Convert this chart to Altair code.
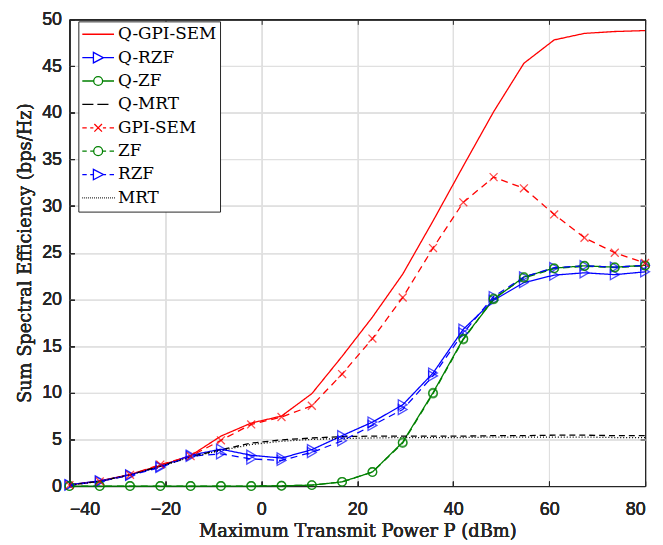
import altair as alt
import pandas as pd

power_dbm = [-40, -33.68, -27.37, -21.05, -14.74, -8.42, -2.11, 4.21, 10.53, 16.84,
             23.16, 29.47, 35.79, 42.11, 48.42, 54.74, 61.05, 67.37, 73.68, 80]

series_names = ["Q-GPI-SEM", "Q-RZF", "Q-ZF", "Q-MRT", "GPI-SEM", "ZF", "RZF", "MRT"]

q_gpi_sem = [0.12, 0.55, 1.25, 2.2, 3.25, 5.35, 6.75, 7.5, 9.9, 13.9,
             18.1, 22.7, 28.4, 34.3, 40.1, 45.3, 47.8, 48.5, 48.7, 48.8]
q_rzf = [0.15, 0.55, 1.2, 2.1, 3.3, 3.95, 3.3, 3.0, 3.9, 5.4,
         6.85, 8.7, 12.1, 16.8, 19.9, 21.8, 22.6, 22.85, 22.65, 22.95]
q_zf = [0.0, 0.0, 0.0, 0.0, 0.0, 0.0, 0.0, 0.03, 0.1, 0.45,
        1.5, 4.7, 10.0, 15.8, 20.0, 22.4, 23.35, 23.6, 23.45, 23.65]
q_mrt = [0.12, 0.5, 1.2, 2.15, 3.15, 3.9, 4.6, 4.95, 5.15, 5.3,
         5.35, 5.35, 5.35, 5.35, 5.4, 5.4, 5.45, 5.45, 5.4, 5.4]
gpi_sem = [0.1, 0.5, 1.2, 2.3, 3.2, 4.9, 6.6, 7.4, 8.6, 12.0,
           15.8, 20.2, 25.5, 30.4, 33.1, 31.9, 29.1, 26.6, 25.0, 23.9]
zf = [0.0, 0.0, 0.0, 0.0, 0.0, 0.0, 0.0, 0.03, 0.1, 0.45,
      1.5, 4.6, 9.9, 15.7, 20.1, 22.3, 23.3, 23.55, 23.4, 23.6]
rzf = [0.1, 0.5, 1.15, 2.0, 3.2, 3.45, 2.9, 2.75, 3.6, 4.85,
       6.5, 8.2, 11.8, 16.4, 20.3, 22.4, 23.4, 23.6, 23.45, 23.65]
mrt = [0.1, 0.5, 1.2, 2.1, 3.1, 3.8, 4.45, 4.8, 5.0, 5.1,
       5.15, 5.2, 5.2, 5.2, 5.25, 5.25, 5.25, 5.25, 5.2, 5.2]

series_values = [q_gpi_sem, q_rzf, q_zf, q_mrt, gpi_sem, zf, rzf, mrt]

line_colors = ["#ff0000", "#0000ff", "#008000", "#000000",
               "#ff0000", "#008000", "#0000ff", "#000000"]
line_dashes = [[1, 0], [1, 0], [1, 0], [6, 4], [7, 5], [7, 5], [7, 5], [1, 2]]

# legend glyphs (line sample + marker), unit = 16 px
dash_l = "M-1,0H-0.72M-0.5,0H-0.3"
dash_r = "M0.3,0H0.5M0.72,0H1"
tri = "M-0.3,-0.33L0.33,0L-0.3,0.33Z"
circ = "M-0.28,0A0.28,0.28 0 1,0 0.28,0A0.28,0.28 0 1,0 -0.28,0"
xmk = "M-0.24,-0.24L0.24,0.24M-0.24,0.24L0.24,-0.24"
dots = "".join(f"M{-1 + i * 0.125:.3f},0H{-1 + i * 0.125 + 0.05:.3f}" for i in range(17))
legend_glyphs = [
    "M-1,0H1",
    "M-1,0H-0.3M0.33,0H1" + tri,
    "M-1,0H-0.28M0.28,0H1" + circ,
    "M-1,0H-0.3M-0.05,0H0.65",
    dash_l + dash_r + xmk,
    dash_l + dash_r + circ,
    dash_l + dash_r + tri,
    dots,
]

rows = []
for name, vals in zip(series_names, series_values):
    for p, v in zip(power_dbm, vals):
        rows.append({"power": p, "se": v, "series": name})
df = pd.DataFrame(rows)

x_scale = alt.Scale(domain=[-40, 80], nice=False, zero=False)
y_scale = alt.Scale(domain=[0, 50], nice=False)
color_scale = alt.Scale(domain=series_names, range=line_colors)
dash_scale = alt.Scale(domain=series_names, range=line_dashes)
shape_scale = alt.Scale(domain=series_names, range=legend_glyphs)

AX = "#262626"
GRID = "#e0e0e0"
SERIF = "DejaVu Serif"
x_ticks = [-40, -20, 0, 20, 40, 60, 80]
y_ticks = list(range(0, 51, 5))

x_grid_color = {"condition": {"test": "datum.value <= -40 || datum.value >= 80", "value": AX},
                "value": GRID}
y_grid_color = {"condition": {"test": "datum.value <= 0 || datum.value >= 50", "value": AX},
                "value": GRID}

x_axis = alt.Axis(
    orient="bottom", values=x_ticks, grid=True, gridColor=x_grid_color,
    domain=False, ticks=True, tickSize=5, tickColor=AX, offset=-5, labelPadding=15,
    labelFont="Liberation Sans", labelFontSize=18, labelColor=AX,
    title="Maximum Transmit Power P (dBm)", titleFont=SERIF,
    titleFontSize=18, titleFontWeight="normal", titleColor=AX, titlePadding=4,
)
y_axis = alt.Axis(
    orient="left", values=y_ticks, grid=True, gridColor=y_grid_color,
    domain=False, ticks=True, tickSize=5, tickColor=AX, offset=-5, labelPadding=8,
    labelFont="Liberation Sans", labelFontSize=18, labelColor=AX,
    title="Sum Spectral Efficiency (bps/Hz)", titleFont=SERIF,
    titleFontSize=18, titleFontWeight="normal", titleColor=AX, titlePadding=7,
)
x_axis_top = alt.Axis(orient="top", values=x_ticks, grid=False, domain=False, labels=False,
                      ticks=True, tickSize=5, tickColor=AX, offset=-5, title=None)
y_axis_right = alt.Axis(orient="right", values=y_ticks, grid=False, domain=False, labels=False,
                        ticks=True, tickSize=5, tickColor=AX, offset=-5, title=None)

X = alt.X("power:Q", scale=x_scale, axis=x_axis)
Y = alt.Y("se:Q", scale=y_scale, axis=y_axis)

base = alt.Chart(df)

lines = base.mark_line(strokeWidth=1.3).encode(
    x=X, y=Y,
    color=alt.Color("series:N", scale=color_scale, legend=None),
    strokeDash=alt.StrokeDash("series:N", scale=dash_scale, legend=None),
)


def markers(names, shape, size):
    return base.transform_filter(
        alt.FieldOneOfPredicate(field="series", oneOf=names)
    ).mark_point(shape=shape, size=size, filled=False, strokeWidth=1.3).encode(
        x=X, y=Y,
        color=alt.Color("series:N", scale=color_scale, legend=None),
    )


tri_pts = markers(["Q-RZF", "RZF"], "triangle-right", 105)
circ_pts = markers(["Q-ZF", "ZF"], "circle", 75)
x_pts = markers(["GPI-SEM"], "M-1,-1L1,1M-1,1L1,-1", 64)

leg = alt.Legend(
    title=None, orient="none", legendX=9, legendY=2, direction="vertical",
    padding=3, strokeColor=AX, fillColor="white", cornerRadius=0,
    labelFont=SERIF, labelFontSize=17, labelColor="#000000",
    labelOffset=3, clipHeight=20, rowPadding=3.6, symbolSize=1024,
    symbolStrokeWidth=1.3, symbolOffset=0, symbolFillColor="transparent",
    symbolOpacity=1,
)

# invisible layer that carries the legend and the inner ticks on the top/right edges
legend_layer = base.mark_point(filled=False, strokeWidth=1.3, opacity=0).encode(
    x=alt.X("power:Q", scale=x_scale, axis=x_axis_top),
    y=alt.Y("se:Q", scale=y_scale, axis=y_axis_right),
    color=alt.Color("series:N", scale=color_scale, legend=leg),
    shape=alt.Shape("series:N", scale=shape_scale, legend=leg),
)

chart = alt.layer(lines, tri_pts, circ_pts, x_pts, legend_layer).resolve_scale(
    color="independent", shape="independent"
).resolve_axis(
    x="independent", y="independent"
).properties(
    width=581, height=471,
    autosize=alt.AutoSizeParams(type="none"),
    padding={"left": 62, "top": 9, "right": 10, "bottom": 57},
).configure_view(stroke=AX, strokeWidth=1)

chart.save("out.html", embed_options={"renderer": "svg", "actions": False})
